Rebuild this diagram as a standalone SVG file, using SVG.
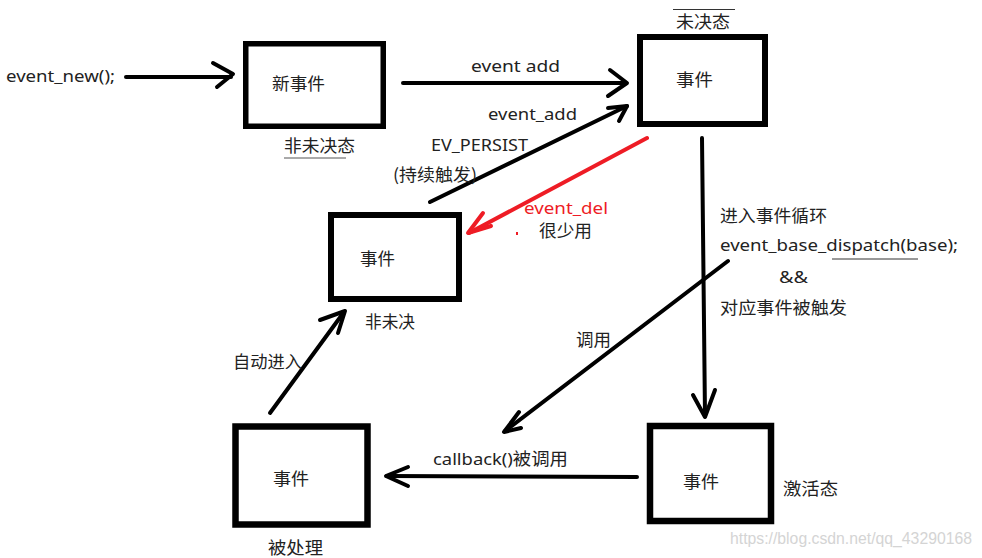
<svg xmlns="http://www.w3.org/2000/svg" width="982" height="558" viewBox="0 0 982 558">
<style>
.box{fill:#fff;stroke:#000;stroke-width:6}
.ln{fill:none;stroke:#000;stroke-width:4;stroke-linecap:round;stroke-linejoin:round}
.red{stroke:#ee1c25}
.t{font-family:"Noto Sans","Noto Sans CJK SC",sans-serif;font-size:17px;fill:#222}
.c{font-family:"Noto Sans CJK SC",sans-serif;font-size:17px;fill:#222}
.wm{font-family:"Liberation Sans",Arial,sans-serif;font-size:16px;fill:#d4d4d4}
</style>
<rect width="982" height="558" fill="#fff"/>

<g id="connectors">
  <g id="c-new">
    <line class="ln" x1="126" y1="77" x2="231" y2="77"/>
    <polyline class="ln" points="213,63 233,74 217,87"/>
  </g>
  <g id="c-add">
    <line class="ln" x1="403" y1="83" x2="625" y2="83"/>
    <polyline class="ln" points="610,70 627,83 608,96"/>
  </g>
  <g id="c-persist">
    <line class="ln" x1="430" y1="202" x2="627" y2="106"/>
    <polyline class="ln" points="608,108 627,106 619,121"/>
  </g>
  <g id="c-del">
    <line class="ln red" x1="647" y1="138" x2="469" y2="233"/>
    <polyline class="ln red" points="483,213 468,233 491,226"/>
    <line class="red" x1="517" y1="232" x2="517" y2="235" stroke-width="2"/>
  </g>
  <g id="c-loop">
    <line class="ln" x1="702" y1="138" x2="705" y2="415"/>
    <polyline class="ln" points="693,395 705,417 715,390"/>
  </g>
  <g id="c-call">
    <line class="ln" x1="728" y1="261" x2="505" y2="431"/>
    <polyline class="ln" points="519,412 504,432 521,428"/>
  </g>
  <g id="c-callback">
    <line class="ln" x1="637" y1="477" x2="387" y2="476"/>
    <polyline class="ln" points="408,467 386,476 408,486"/>
  </g>
  <g id="c-auto">
    <line class="ln" x1="270" y1="413" x2="344" y2="312"/>
    <polyline class="ln" points="320,320 345,311 338,333"/>
  </g>
</g>

<g id="labels">
  <text class="t" x="6" y="82" textLength="109" lengthAdjust="spacingAndGlyphs">event_new();</text>
  <text class="t" x="471" y="72" textLength="89" lengthAdjust="spacingAndGlyphs">event add</text>
  <text class="t" x="488" y="120" textLength="89" lengthAdjust="spacingAndGlyphs">event_add</text>
  <text class="t" x="431" y="151" textLength="97" lengthAdjust="spacingAndGlyphs">EV_PERSIST</text>
  <text class="c" x="393" y="181" textLength="84" lengthAdjust="spacingAndGlyphs">(持续触发)</text>
  <text class="t" x="524" y="214" textLength="84" lengthAdjust="spacingAndGlyphs" style="fill:#ee1c25">event_del</text>
  <text class="c" x="539" y="237" textLength="53" lengthAdjust="spacingAndGlyphs">很少用</text>
  <text class="c" x="720" y="222" textLength="107" lengthAdjust="spacingAndGlyphs">进入事件循环</text>
  <text class="t" x="720" y="251" textLength="238" lengthAdjust="spacingAndGlyphs">event_base_dispatch(base);</text>
  <line x1="832" y1="259" x2="918" y2="259" stroke="#333" stroke-width="1"/>
  <text class="t" x="779" y="283" textLength="29" lengthAdjust="spacingAndGlyphs">&amp;&amp;</text>
  <text class="c" x="720" y="314" textLength="127" lengthAdjust="spacingAndGlyphs">对应事件被触发</text>
  <text class="c" x="576" y="346" textLength="35" lengthAdjust="spacingAndGlyphs">调用</text>
  <text class="c" x="233" y="368" textLength="69" lengthAdjust="spacingAndGlyphs">自动进入</text>
  <text class="t" x="433" y="465" textLength="135" lengthAdjust="spacingAndGlyphs">callback()被调用</text>
  <text class="wm" x="730" y="544" textLength="242" lengthAdjust="spacingAndGlyphs">https://blog.csdn.net/qq_43290168</text>
</g>

<g id="node-new">
  <rect class="box" x="245.75" y="43.75" width="137.5" height="82.5" style="stroke-width:5.5"/>
  <text class="c" x="272" y="90" textLength="53" lengthAdjust="spacingAndGlyphs">新事件</text>
  <text class="c" x="284" y="152" textLength="71" lengthAdjust="spacingAndGlyphs">非未决态</text>
  <line x1="284" y1="158" x2="346" y2="158" stroke="#555" stroke-width="1"/>
</g>

<g id="node-pending">
  <rect class="box" x="640" y="37" width="125" height="87"/>
  <text class="c" x="676" y="86" textLength="37" lengthAdjust="spacingAndGlyphs">事件</text>
  <line x1="673" y1="9.5" x2="735" y2="9.5" stroke="#333" stroke-width="1"/>
  <text class="c" x="676" y="28" textLength="54" lengthAdjust="spacingAndGlyphs">未决态</text>
</g>

<g id="node-nonpending">
  <rect class="box" x="331" y="215" width="128" height="84"/>
  <text class="c" x="360" y="265" textLength="35" lengthAdjust="spacingAndGlyphs">事件</text>
  <text class="c" x="365" y="328" textLength="50" lengthAdjust="spacingAndGlyphs">非未决</text>
</g>

<g id="node-active">
  <rect class="box" x="650" y="426" width="121" height="95" style="stroke-width:6.5"/>
  <text class="c" x="683" y="488" textLength="36" lengthAdjust="spacingAndGlyphs">事件</text>
  <text class="c" x="783" y="495" textLength="55" lengthAdjust="spacingAndGlyphs">激活态</text>
</g>

<g id="node-handled">
  <rect class="box" x="235.5" y="426.5" width="132" height="98" style="stroke-width:6.5"/>
  <text class="c" x="273" y="485" textLength="36" lengthAdjust="spacingAndGlyphs">事件</text>
  <text class="c" x="268" y="554" textLength="55" lengthAdjust="spacingAndGlyphs">被处理</text>
</g>
</svg>
